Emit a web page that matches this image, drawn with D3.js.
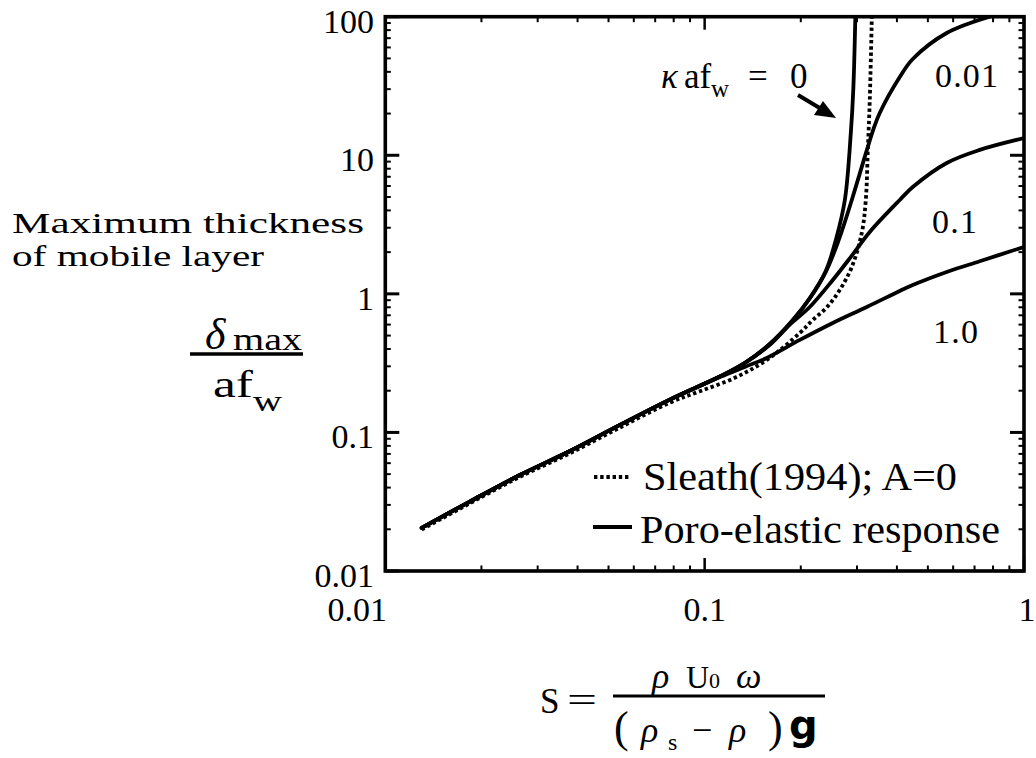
<!DOCTYPE html>
<html>
<head>
<meta charset="utf-8">
<script src="https://cdn.jsdelivr.net/npm/d3@7"></script>
<style>
  html, body { margin: 0; padding: 0; background: #fff; }
  svg { display: block; }
  text { font-family: "Liberation Serif", "Times New Roman", serif; fill: #000; }
</style>
</head>
<body>
<svg id="chart" width="1036" height="758"></svg>
<script>
// Dimensionless mobile-layer thickness δmax/af_w against Shields-type parameter S
const kappaLabels = ["0", "0.01", "0.1", "1.0"];

// κ af_w = 0
const sK0 = [0.013, 0.0184, 0.0264, 0.0379, 0.0543, 0.0778, 0.1116, 0.1336, 0.160, 0.1888, 0.2134, 0.2395, 0.2575, 0.2748, 0.2869, 0.2921, 0.2964];
const dK0 = [0.0205, 0.0317, 0.0493, 0.0735, 0.1133, 0.1725, 0.253, 0.3171, 0.4349, 0.648, 0.934, 1.463, 2.45, 4.76, 14.5, 30.1, 100];

// κ af_w = 0.01
const sK001 = [0.013, 0.0184, 0.0264, 0.0379, 0.0543, 0.0778, 0.1116, 0.1336, 0.160, 0.1888, 0.2134, 0.2395, 0.263, 0.2889, 0.322, 0.338, 0.3534, 0.4083, 0.4484, 0.5728, 0.781];
const dK001 = [0.0205, 0.0317, 0.0493, 0.0735, 0.1133, 0.1725, 0.253, 0.3171, 0.4349, 0.645, 0.925, 1.44, 2.45, 4.76, 10.9, 15.5, 20.2, 36.7, 49.5, 76.3, 100];

// κ af_w = 0.1
const sK01 = [0.013, 0.0184, 0.0264, 0.0379, 0.0543, 0.0778, 0.1116, 0.1336, 0.160, 0.1848, 0.2134, 0.2519, 0.2869, 0.3289, 0.4083, 0.4484, 0.5728, 0.7267, 1.0];
const dK01 = [0.0205, 0.0317, 0.0493, 0.0735, 0.1133, 0.1725, 0.253, 0.3171, 0.428, 0.600, 0.804, 1.259, 1.846, 2.797, 4.76, 5.90, 8.80, 10.93, 13.3];

// κ af_w = 1.0
const sK1 = [0.013, 0.0184, 0.0264, 0.0379, 0.0543, 0.0778, 0.1116, 0.1336, 0.1565, 0.1986, 0.2519, 0.322, 0.4083, 0.4484, 0.5728, 0.7267, 1.0];
const dK1 = [0.0205, 0.0317, 0.0493, 0.0735, 0.1133, 0.1725, 0.251, 0.297, 0.3446, 0.4649, 0.6166, 0.804, 1.05, 1.159, 1.439, 1.72, 2.18];

// Sleath (1994), A = 0
const sSleath = [0.013, 0.0184, 0.0264, 0.0379, 0.0543, 0.0778, 0.0966, 0.1243, 0.1565, 0.1986, 0.2181, 0.2413, 0.2649, 0.2889, 0.3105, 0.3196, 0.3243, 0.3289, 0.3338];
const dSleath = [0.0199, 0.0308, 0.0478, 0.0708, 0.1085, 0.164, 0.198, 0.248, 0.3334, 0.5224, 0.648, 0.80, 1.067, 1.563, 2.75, 4.76, 10.93, 25.1, 100];

const xTickValues = [0.01, 0.1, 1];
const xTickLabels = ["0.01", "0.1", "1"];
const yTickValues = [0.01, 0.1, 1, 10, 100];
const yTickLabels = ["0.01", "0.1", "1", "10", "100"];
const legendLabels = ["Sleath(1994); A=0", "Poro-elastic response"];

const svg = d3.select("#chart");
svg.append("rect").attr("width", 1036).attr("height", 758).attr("fill", "#fff");

const plot = { left: 385.3, right: 1024, top: 16.7, bottom: 571 };
const x = d3.scaleLog().domain([0.01, 1]).range([plot.left, plot.right]);
const y = d3.scaleLog().domain([0.01, 100]).range([plot.bottom, plot.top]);

svg.append("clipPath").attr("id", "plotClip")
  .append("rect")
  .attr("x", plot.left).attr("y", plot.top)
  .attr("width", plot.right - plot.left).attr("height", plot.bottom - plot.top);

// ---- ticks (inward on all four sides) ----
const ticksG = svg.append("g").attr("stroke", "#000");
const xAll = x.ticks();
const yAll = y.ticks();
const isMajor = v => Math.abs(Math.log10(v) - Math.round(Math.log10(v))) < 1e-9;

xAll.forEach(v => {
  const px = x(v), len = isMajor(v) ? 13 : 5.5, w = isMajor(v) ? 2.5 : 2;
  ticksG.append("line").attr("x1", px).attr("x2", px)
    .attr("y1", plot.bottom).attr("y2", plot.bottom - len).attr("stroke-width", w);
  ticksG.append("line").attr("x1", px).attr("x2", px)
    .attr("y1", plot.top).attr("y2", plot.top + len).attr("stroke-width", w);
});
yAll.forEach(v => {
  const py = y(v), len = isMajor(v) ? 14 : 5.5, w = isMajor(v) ? 3 : 2;
  ticksG.append("line").attr("x1", plot.left).attr("x2", plot.left + len)
    .attr("y1", py).attr("y2", py).attr("stroke-width", w);
  ticksG.append("line").attr("x1", plot.right).attr("x2", plot.right - len)
    .attr("y1", py).attr("y2", py).attr("stroke-width", w);
});

// frame
svg.append("rect")
  .attr("x", plot.left).attr("y", plot.top)
  .attr("width", plot.right - plot.left).attr("height", plot.bottom - plot.top)
  .attr("fill", "none").attr("stroke", "#000").attr("stroke-width", 3.6);

// tick labels
svg.append("g").selectAll("text").data(yTickValues).join("text")
  .attr("x", 374).attr("y", d => y(d) + 16)
  .attr("text-anchor", "end").attr("font-size", 34)
  .text((d, i) => yTickLabels[i]);

svg.append("g").selectAll("text").data(xTickValues).join("text")
  .attr("x", (d, i) => x(d) + (i === 0 ? -28 : (i === 2 ? 3 : 0)))
  .attr("y", 621)
  .attr("text-anchor", "middle").attr("font-size", 34)
  .text((d, i) => xTickLabels[i]);

// ---- curves ----
const line = d3.line()
  .x(d => x(d[0])).y(d => y(d[1]))
  .curve(d3.curveCatmullRom.alpha(0.5));
const zip = (a, b) => a.map((v, i) => [v, b[i]]);

const curvesG = svg.append("g").attr("clip-path", "url(#plotClip)")
  .attr("fill", "none").attr("stroke", "#000");

[[sK1, dK1], [sK01, dK01], [sK001, dK001], [sK0, dK0]].forEach(([s, d]) => {
  curvesG.append("path").datum(zip(s, d))
    .attr("d", line).attr("stroke-width", 3.8)
    .attr("stroke-linejoin", "round").attr("stroke-linecap", "round");
});
curvesG.append("path").datum(zip(sSleath, dSleath))
  .attr("d", line).attr("stroke-width", 3.8)
  .attr("stroke-dasharray", "3.4 2.8");

// ---- curve annotations ----
svg.append("text").attr("x", 935).attr("y", 87).attr("font-size", 34)
  .attr("textLength", 63).attr("lengthAdjust", "spacing").text(kappaLabels[1]);
svg.append("text").attr("x", 932).attr("y", 233).attr("font-size", 34)
  .attr("textLength", 45).attr("lengthAdjust", "spacing").text(kappaLabels[2]);
svg.append("text").attr("x", 933).attr("y", 343).attr("font-size", 34)
  .attr("textLength", 45).attr("lengthAdjust", "spacing").text(kappaLabels[3]);

const kLab = svg.append("text").attr("y", 88).attr("font-size", 35);
kLab.append("tspan").attr("x", 661).attr("font-style", "italic").text("κ");
kLab.append("tspan").attr("x", 684).text("af");
kLab.append("tspan").attr("x", 711).attr("dy", 9).attr("font-size", 25).text("w");
kLab.append("tspan").attr("x", 748).attr("dy", -9).text("=");
kLab.append("tspan").attr("x", 790).text(kappaLabels[0]);

// arrow pointing at the κ af_w = 0 curve
svg.append("line").attr("x1", 798).attr("y1", 95).attr("x2", 823).attr("y2", 110)
  .attr("stroke", "#000").attr("stroke-width", 4);
svg.append("path")
  .attr("d", "M836,118 L814,115 L823,101 Z")
  .attr("fill", "#000");

// ---- legend ----
svg.append("line").attr("x1", 594).attr("x2", 631).attr("y1", 477).attr("y2", 477)
  .attr("stroke", "#000").attr("stroke-width", 3.8).attr("stroke-dasharray", "3.4 2.8");
svg.append("line").attr("x1", 593).attr("x2", 632).attr("y1", 527).attr("y2", 527)
  .attr("stroke", "#000").attr("stroke-width", 3.8);
svg.append("text").attr("x", 643).attr("y", 490).attr("font-size", 40)
  .attr("textLength", 314).attr("lengthAdjust", "spacingAndGlyphs").text(legendLabels[0]);
svg.append("text").attr("x", 640).attr("y", 543).attr("font-size", 40)
  .attr("textLength", 360).attr("lengthAdjust", "spacingAndGlyphs").text(legendLabels[1]);

// ---- y-axis title ----
svg.append("text").attr("x", 12).attr("y", 233).attr("font-size", 30)
  .attr("textLength", 352).attr("lengthAdjust", "spacingAndGlyphs").text("Maximum thickness");
svg.append("text").attr("x", 12).attr("y", 266).attr("font-size", 30)
  .attr("textLength", 252).attr("lengthAdjust", "spacingAndGlyphs").text("of mobile layer");

svg.append("text").attr("x", 205).attr("y", 349).attr("font-size", 44)
  .attr("font-style", "italic").text("δ");
svg.append("text").attr("x", 233).attr("y", 350).attr("font-size", 31)
  .attr("textLength", 69).attr("lengthAdjust", "spacingAndGlyphs").text("max");
svg.append("line").attr("x1", 190).attr("x2", 303).attr("y1", 354).attr("y2", 354)
  .attr("stroke", "#000").attr("stroke-width", 3.5);
svg.append("text").attr("x", 213).attr("y", 397).attr("font-size", 38)
  .attr("textLength", 40).attr("lengthAdjust", "spacingAndGlyphs").text("af");
svg.append("text").attr("x", 253).attr("y", 411).attr("font-size", 29)
  .attr("textLength", 29).attr("lengthAdjust", "spacingAndGlyphs").text("w");

// ---- x-axis title ----
svg.append("text").attr("x", 540).attr("y", 713).attr("font-size", 35).text("S");
svg.append("text").attr("x", 567).attr("y", 712).attr("font-size", 35)
  .attr("textLength", 30).attr("lengthAdjust", "spacingAndGlyphs").text("=");
svg.append("line").attr("x1", 613).attr("x2", 825).attr("y1", 696).attr("y2", 696)
  .attr("stroke", "#000").attr("stroke-width", 3);

const num = svg.append("text").attr("y", 688).attr("font-size", 36);
num.append("tspan").attr("x", 652).attr("font-style", "italic").text("ρ");
num.append("tspan").attr("x", 686).attr("font-size", 32).text("U");
num.append("tspan").attr("x", 709).attr("font-size", 22).text("0");
num.append("tspan").attr("x", 736).attr("font-style", "italic").text("ω");

const den = svg.append("text").attr("y", 742).attr("font-size", 36);
den.append("tspan").attr("x", 614).attr("font-size", 44).text("(");
den.append("tspan").attr("x", 641).attr("font-style", "italic").text("ρ");
den.append("tspan").attr("x", 668).attr("dy", 8).attr("font-size", 24).text("s");
den.append("tspan").attr("x", 692).attr("dy", -8).text("−");
den.append("tspan").attr("x", 729).attr("font-style", "italic").text("ρ");
den.append("tspan").attr("x", 768).attr("font-size", 44).text(")");
svg.append("text").attr("x", 789).attr("y", 739).attr("font-size", 40)
  .style("font-family", "'DejaVu Sans', sans-serif").attr("font-weight", "bold").text("g");
</script>
</body>
</html>
